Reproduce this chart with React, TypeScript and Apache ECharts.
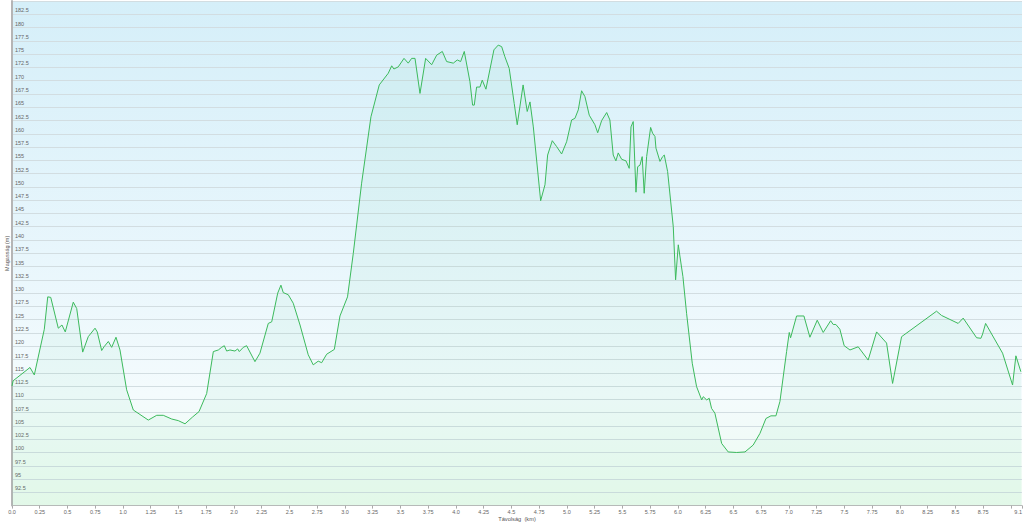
import React, { useEffect, useRef } from "react";
import * as echarts from "echarts";

const distanceKm = [
  0, 0.01, 0.162, 0.201, 0.291, 0.322, 0.349, 0.417, 0.45, 0.48, 0.552, 0.583, 0.637, 0.687, 0.748,
  0.768, 0.808, 0.829, 0.868, 0.898, 0.937, 0.973, 1.033, 1.093, 1.228, 1.304, 1.363, 1.439, 1.498,
  1.559, 1.628, 1.685, 1.754, 1.814, 1.859, 1.889, 1.913, 1.934, 1.964, 2.009, 2.033, 2.048, 2.084,
  2.114, 2.189, 2.234, 2.309, 2.34, 2.394, 2.423, 2.444, 2.489, 2.534, 2.595, 2.669, 2.714, 2.759,
  2.79, 2.835, 2.904, 2.955, 3.023, 3.075, 3.15, 3.234, 3.309, 3.39, 3.421, 3.441, 3.48, 3.532, 3.57,
  3.601, 3.631, 3.676, 3.727, 3.781, 3.826, 3.877, 3.916, 3.976, 4.012, 4.042, 4.075, 4.126, 4.15,
  4.165, 4.186, 4.216, 4.237, 4.27, 4.342, 4.381, 4.412, 4.441, 4.48, 4.525, 4.552, 4.605, 4.642,
  4.667, 4.697, 4.763, 4.802, 4.826, 4.868, 4.907, 4.952, 4.997, 5.042, 5.072, 5.102, 5.132, 5.162,
  5.201, 5.252, 5.277, 5.313, 5.358, 5.387, 5.417, 5.441, 5.462, 5.493, 5.532, 5.561, 5.577, 5.597,
  5.622, 5.637, 5.658, 5.678, 5.696, 5.718, 5.754, 5.772, 5.793, 5.802, 5.838, 5.862, 5.877, 5.907,
  5.958, 5.979, 6.003, 6.045, 6.078, 6.129, 6.168, 6.214, 6.228, 6.259, 6.282, 6.303, 6.333, 6.394,
  6.453, 6.529, 6.604, 6.678, 6.739, 6.793, 6.838, 6.883, 6.919, 6.979, 7.003, 7.015, 7.069, 7.135,
  7.189, 7.255, 7.309, 7.376, 7.399, 7.423, 7.459, 7.498, 7.55, 7.624, 7.714, 7.79, 7.88, 7.934,
  8.015, 8.33, 8.375, 8.525, 8.57, 8.691, 8.73, 8.745, 8.772, 8.925, 9.015, 9.045, 9.09,
];

const elevationM = [
  112.5, 113.5, 116.0, 114.6, 123.2, 129.3, 129.2, 123.4, 124.0, 122.7, 128.3, 127.1, 118.9, 121.8,
  123.4, 122.7, 119.2, 119.9, 120.9, 119.8, 121.7, 119.3, 111.8, 108.0, 106.1, 107.0, 107.0, 106.3,
  106.0, 105.4, 106.7, 107.7, 111.1, 119.0, 119.3, 119.8, 120.1, 119.1, 119.3, 119.1, 119.5, 119.0,
  119.8, 120.1, 117.1, 118.7, 124.3, 124.6, 130.0, 131.5, 130.1, 129.7, 128.1, 124.0, 118.4, 116.5,
  117.2, 116.9, 118.5, 119.4, 125.7, 129.3, 137.5, 150.7, 163.2, 169.2, 171.4, 172.8, 172.2, 172.6,
  174.2, 173.3, 174.2, 174.2, 167.6, 174.2, 173.0, 174.8, 175.5, 173.6, 173.3, 173.9, 173.6, 175.5,
  169.8, 165.4, 165.4, 168.8, 168.8, 170.1, 168.4, 175.8, 176.7, 176.4, 174.5, 172.3, 165.7, 161.7,
  169.2, 164.2, 166.0, 161.3, 147.4, 150.4, 156.0, 158.7, 157.6, 156.2, 158.5, 162.6, 162.9, 164.5,
  168.1, 167.0, 163.5, 161.7, 160.2, 162.5, 164.0, 162.6, 156.0, 154.9, 156.4, 155.2, 154.9, 153.5,
  161.3, 162.3, 149.0, 153.8, 154.1, 155.7, 148.8, 155.7, 161.2, 160.1, 159.5, 157.3, 154.8, 155.7,
  156.0, 152.9, 142.5, 132.5, 139.1, 133.1, 126.2, 116.8, 112.4, 109.9, 110.5, 109.9, 110.2, 108.3,
  107.4, 101.7, 100.1, 100.0, 100.1, 101.4, 103.6, 106.4, 106.9, 106.9, 109.6, 119.0, 122.6, 121.6,
  125.7, 125.7, 121.7, 124.9, 122.6, 124.8, 124.1, 124.1, 123.2, 120.1, 119.3, 119.9, 117.4, 122.7,
  120.6, 113.0, 121.8, 126.6, 125.8, 124.3, 125.3, 121.6, 121.5, 122.3, 124.3, 118.7, 112.7, 118.2,
  115.2,
];

const xAxisTitle = "Távolság  (km)";
const yAxisTitle = "Magasság (m)";

export default function App() {
  const ref = useRef<HTMLDivElement>(null);

  useEffect(() => {
    document.body.style.margin = "0";
    const chart = echarts.init(ref.current as HTMLDivElement, null, { renderer: "svg" });
    const data = distanceKm.map((d, i) => [d, elevationM[i]]);
    const labelFont = "Liberation Sans, Arial, sans-serif";
    chart.setOption({
      animation: false,
      backgroundColor: "#ffffff",
      grid: {
        left: 12,
        right: 2,
        top: 1,
        bottom: 19.4,
        containLabel: false,
        outerBoundsMode: "none",
        show: true,
        borderWidth: 0,
        backgroundColor: new echarts.graphic.LinearGradient(0, 0, 0, 1, [
          { offset: 0, color: "#d5eff9" },
          { offset: 0.5, color: "#e8f6fc" },
          { offset: 0.78, color: "#f4fbfd" },
          { offset: 1, color: "#ecfbef" },
        ]),
      },
      xAxis: {
        type: "value",
        min: 0,
        max: 9.1,
        interval: 0.25,
        name: xAxisTitle,
        nameLocation: "middle",
        nameGap: 10.5,
        nameMoveOverlap: false,
        nameTextStyle: { fontSize: 5.7, color: "#555", fontFamily: labelFont },
        axisLine: { show: true, lineStyle: { color: "#bbbbbb", width: 1 } },
        axisTick: { show: true, length: 3, lineStyle: { color: "#aaaaaa" } },
        splitLine: { show: false },
        axisLabel: {
          fontSize: 5.5,
          color: "#666",
          fontFamily: labelFont,
          margin: 3.5,
          showMaxLabel: true,
          alignMaxLabel: "right",
          formatter: (v: number) => {
            if (Math.abs(v - 9) < 1e-9) return "";
            return Number.isInteger(v) ? v.toFixed(1) : String(v);
          },
        },
      },
      yAxis: {
        type: "value",
        min: 90,
        max: 185,
        interval: 2.5,
        name: yAxisTitle,
        nameLocation: "middle",
        nameGap: 2.5,
        nameMoveOverlap: false,
        nameTextStyle: { fontSize: 5.5, color: "#555", fontFamily: labelFont },
        axisLine: { show: true, lineStyle: { color: "#b5b5b5", width: 2 } },
        axisTick: { show: false },
        splitLine: { show: true, lineStyle: { color: "#d2dde1", width: 1 } },
        axisLabel: {
          inside: true,
          verticalAlign: "bottom",
          padding: [0, 0, 1, 0],
          margin: 3,
          fontSize: 5.5,
          color: "#666",
          fontFamily: labelFont,
          showMinLabel: false,
          showMaxLabel: false,
        },
      },
      series: [
        {
          type: "line",
          data,
          symbol: "none",
          smooth: false,
          lineStyle: { color: "#3cba5c", width: 1 },
          itemStyle: { color: "#3cba5c" },
          areaStyle: { origin: "start", color: "rgba(60, 200, 120, 0.08)" },
        },
      ],
    });
    return () => chart.dispose();
  }, []);

  return <div ref={ref} style={{ width: 1024, height: 525 }} />;
}
